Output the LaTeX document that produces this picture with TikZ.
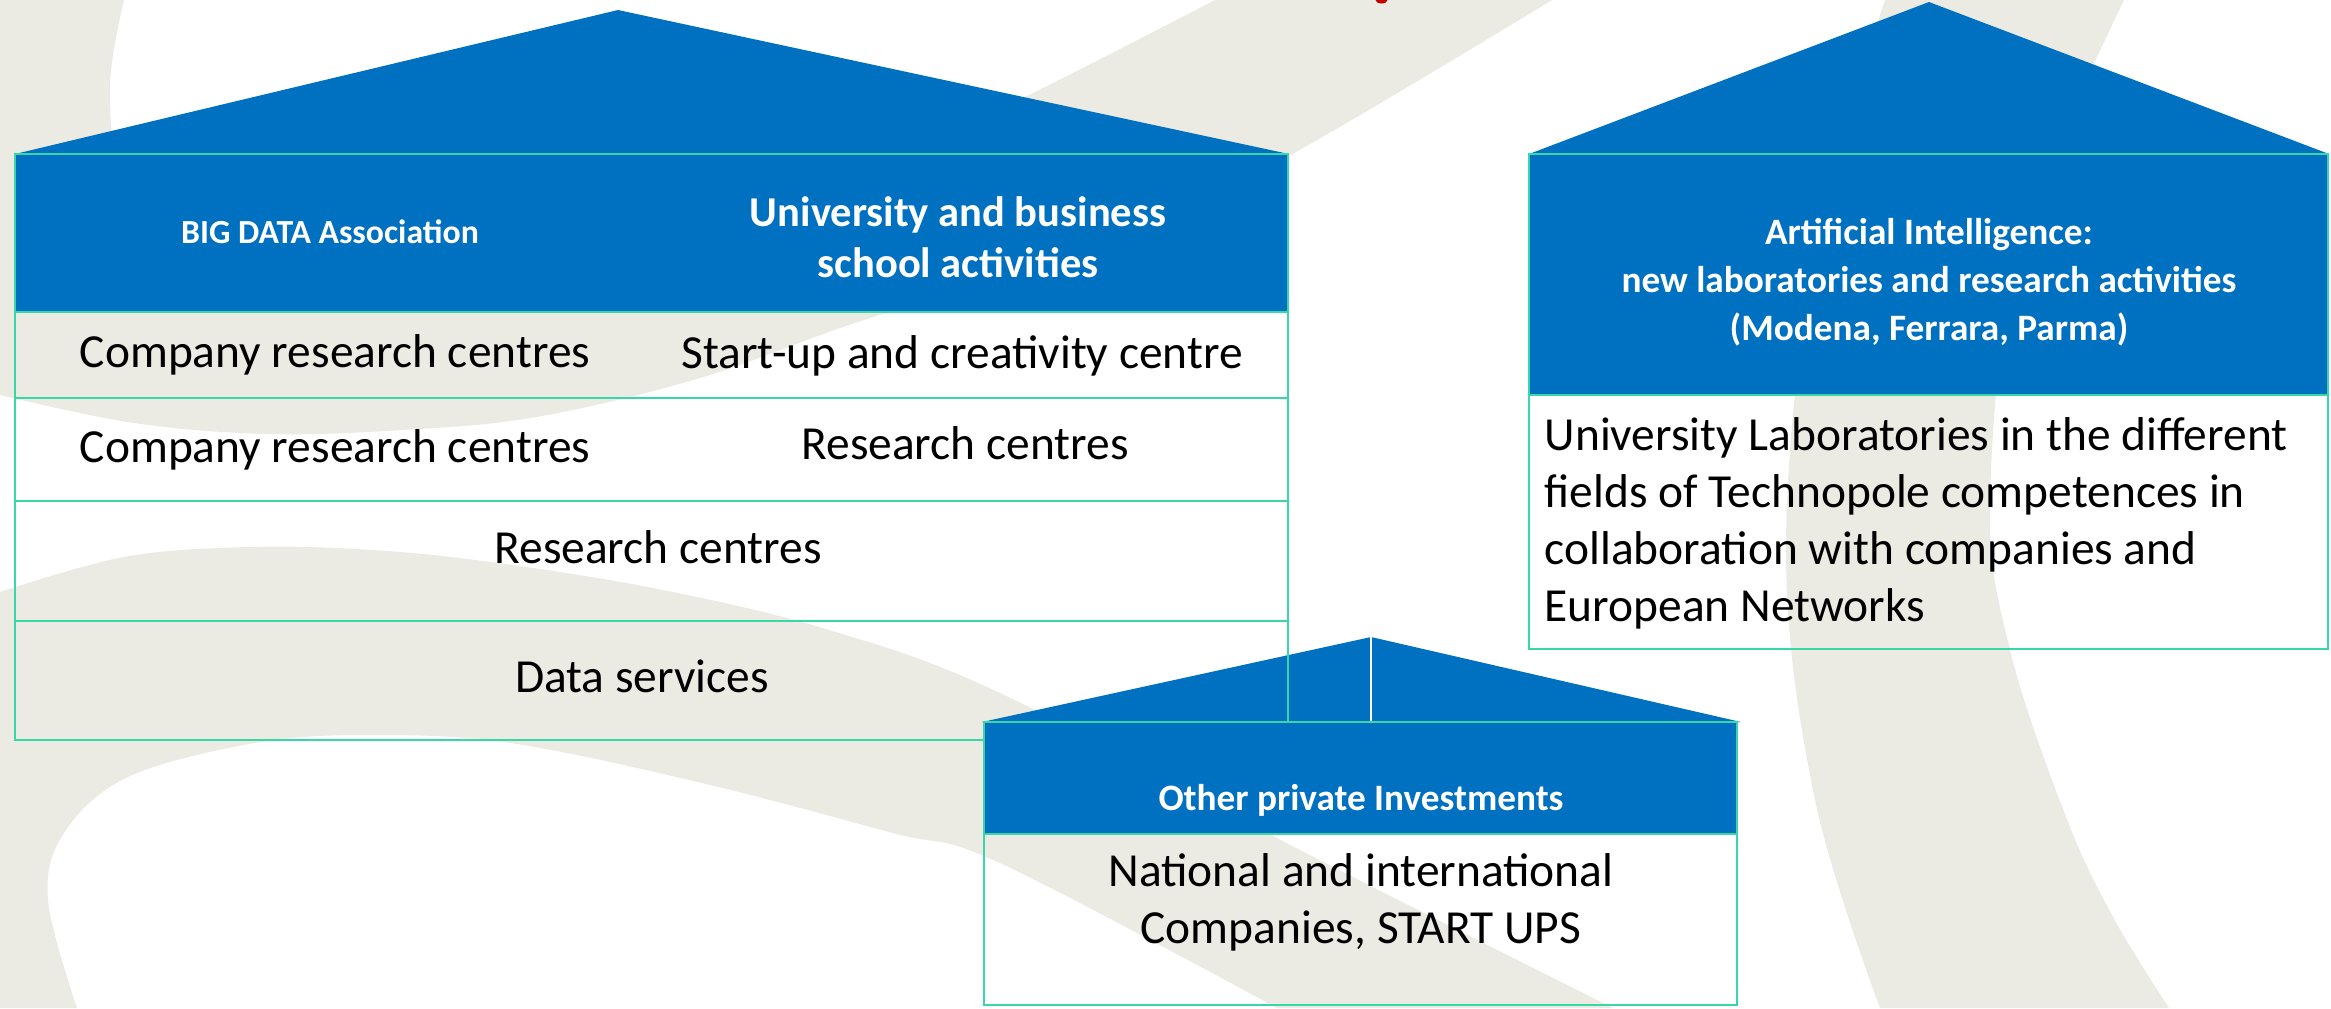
\documentclass[tikz,border=0pt]{standalone}
\usepackage{fontspec}
\setmainfont{Carlito}
\definecolor{ppblue}{RGB}{0,112,192}
\definecolor{tealline}{RGB}{56,214,168}
\definecolor{bgband}{RGB}{235,235,228}
\definecolor{redmark}{RGB}{192,0,0}
\tikzset{
  roof/.style={fill=ppblue, draw=none},
  hdrfill/.style={fill=ppblue, draw=none},
  frame/.style={draw=tealline, line width=0.6pt},
  hdrtxt/.style={text=white, inner sep=0pt, anchor=base},
  bodytxt/.style={text=black, inner sep=0pt, anchor=base, font=\fontsize{13.5}{16.2}\selectfont},
  hsmall/.style={hdrtxt, font=\bfseries\fontsize{9.6}{11.5}\selectfont},
  hmid/.style={hdrtxt, font=\bfseries\fontsize{10.6}{12.7}\selectfont},
  hbig/.style={hdrtxt, font=\bfseries\fontsize{12.1}{14.5}\selectfont},
}
\begin{document}
\begin{tikzpicture}[x=0.1mm,y=-0.1mm]
\useasboundingbox (0,0) rectangle (2331,1008);
\fill[white] (0,0) rectangle (2331,1008);
% ---------- background bands ----------
\begin{scope}
\clip (0,0) rectangle (2331,1008);
\fill[bgband] (0,0) -- plot[smooth,tension=0.6] coordinates {(124,0) (110,90) (130,170) (250,265) (500,285) (800,205) (1025,97) (1215,0)}
  -- plot[smooth,tension=0.6] coordinates {(1552,0) (1294,153) (1100,250) (870,318) (700,378) (536,417) (402,430) (268,434) (134,423) (0,395)} -- cycle;
\fill[bgband] plot[smooth,tension=0.6] coordinates {(1885,0) (1815,250) (1786,550) (1815,800) (1880,1008)}
  -- plot[smooth,tension=0.6] coordinates {(2169,1008) (2113,917) (2066,817) (2010,650) (1990,500) (2020,250) (2124,0)} -- cycle;
\fill[bgband] (0,592) -- plot[smooth,tension=0.6] coordinates {(0,592) (124,557) (249,547) (373,550) (498,563) (663,590) (829,630) (1000,693) (1300,850) (1613,1008)}
  -- plot[smooth,tension=0.6] coordinates {(1277,1008) (1000,863) (893,833) (702,783) (510,743) (370,735) (255,743) (128,777) (64,833) (48,900) (77,1008)} -- (0,1008) -- cycle;
\fill[redmark] (1381.5,0) ellipse (0.6mm and 0.35mm);
\end{scope}
% ---------- house A ----------
\fill[roof] (15,154) -- (618,10) -- (1289,154) -- cycle;
\fill[hdrfill] (15,154) rectangle (1288,312);
% ---------- house B ----------
\fill[roof] (1529,154) -- (1929,2) -- (2329,154) -- cycle;
\fill[hdrfill] (1529,154) rectangle (2328,395);
\draw[frame] (1529,154) rectangle (2328,649);
\draw[frame] (1529,395) -- (2328,395);
% ---------- house C roof ----------
\fill[roof] (982,722) -- (1371,637) -- (1741,722) -- cycle;
\draw[white, line width=0.3pt] (1371,637) -- (1371,722);
% ---------- house A frame ----------
\draw[frame] (15,154) -- (618,154);
\draw[frame] (15,154) rectangle (1288,740);
\foreach \yy in {312,398,501,621} \draw[frame] (15,\yy) -- (1288,\yy);
% ---------- house C ----------
\fill[hdrfill] (984,722) rectangle (1737,834);
\draw[frame] (984,722) rectangle (1737,1005);
\draw[frame] (984,834) -- (1737,834);
% ---------- texts A ----------
\node[hsmall] (bigdata) at (330,243) {BIG DATA Association};
\node[hbig] (uni1) at (958,226) {University and business};
\node[hbig] (uni2) at (958,277) {school activities};
\node[bodytxt] (crc1) at (335,367) {Company research centres};
\node[bodytxt] (startup) at (962,368) {Start-up and creativity centre};
\node[bodytxt] (crc2) at (335,462) {Company research centres};
\node[bodytxt] (rc1) at (965,459) {Research centres};
\node[bodytxt] (rc2) at (658,563) {Research centres};
\node[bodytxt] (data) at (642,692) {Data services};
% ---------- texts B ----------
\node[hmid] (ai1) at (1929,244) {Artificial Intelligence:};
\node[hmid] (ai2) at (1929,292) {new laboratories and research activities};
\node[hmid] (ai3) at (1929,340) {(Modena, Ferrara, Parma)};
\node[bodytxt, anchor=base west] (ul1) at (1544,450) {University Laboratories in the different};
\node[bodytxt, anchor=base west] (ul2) at (1544,507) {fields of Technopole competences in};
\node[bodytxt, anchor=base west] (ul3) at (1544,564) {collaboration with companies and};
\node[bodytxt, anchor=base west] (ul4) at (1544,621) {European Networks};
% ---------- texts C ----------
\node[hmid] (other) at (1361,810) {Other private Investments};
\node[bodytxt] (nat) at (1361,886) {National and international};
\node[bodytxt] (comp) at (1361,943) {Companies, START UPS};
\end{tikzpicture}
\end{document}
